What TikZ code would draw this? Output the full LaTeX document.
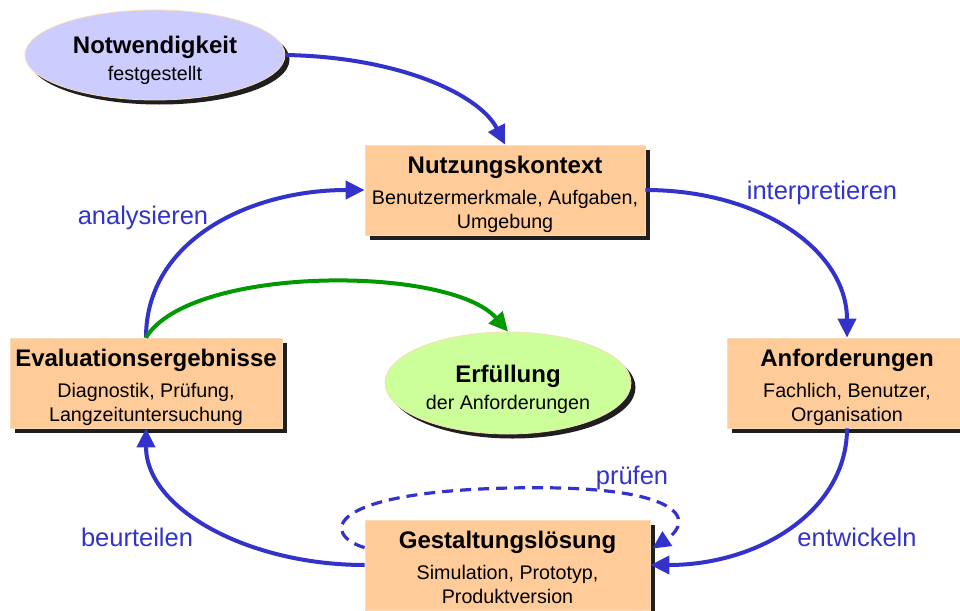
\documentclass[tikz,border=0pt]{standalone}
\usepackage{fontspec}
\setmainfont{Liberation Sans}
\usetikzlibrary{arrows.meta,shadows,calc,shapes.geometric}
\definecolor{peach}{HTML}{FFCC99}
\definecolor{peachline}{HTML}{F8DDB8}
\definecolor{lav}{HTML}{CCCCFF}
\definecolor{lgreen}{HTML}{CCFF99}
\definecolor{arrblue}{HTML}{3333CC}
\definecolor{arrgreen}{HTML}{009900}
\newcommand\ttlfont{\fontsize{24}{24}\selectfont\bfseries}
\newcommand\sbtfont{\fontsize{19.7}{24}\selectfont}
\begin{document}
\begin{tikzpicture}[x=1pt,y=-1pt,
  shad/.style={drop shadow={shadow xshift=4.5pt, shadow yshift=-4.5pt, fill=black!88, opacity=1}},
  box/.style={rectangle, fill=peach, draw=peachline, line width=0.8pt, inner sep=0pt,
    align=center, minimum height=90pt, font=\sbtfont, text height=80pt, text depth=4pt, shad},
  ell/.style={ellipse, draw=peachline, line width=0.8pt, inner sep=0pt, align=center,
    font=\sbtfont, shad},
  flow/.style={draw=arrblue, line width=4pt, -{Triangle[length=19pt,width=18pt]}},
  gflow/.style={draw=arrgreen, line width=4pt, -{Triangle[length=19pt,width=18pt]}},
  dflow/.style={draw=arrblue, line width=3.2pt, dash pattern=on 11pt off 7pt, -{Triangle[length=18pt,width=17pt]}},
  lbl/.style={text=arrblue, font=\fontsize{25.5}{28}\selectfont, inner sep=0pt}]
\useasboundingbox (0,0) rectangle (960,610);
\fill[white] (0,0) rectangle (960,610);
\clip (0,0) rectangle (960,610);

% nodes
\node[ell, fill=lav, minimum width=260pt, minimum height=90pt, text height=54pt, text depth=4pt] (notw) at (155,55)
  {{\ttlfont Notwendigkeit}\\[2pt]festgestellt};
\node[box, minimum width=280pt] (nutz) at (505,190)
  {{\ttlfont Nutzungskontext}\\[7pt]Benutzermerkmale, Aufgaben,\\Umgebung};
\node[box, minimum width=272pt] (eval) at (146,383)
  {{\ttlfont Evaluationsergebnisse}\\[7pt]Diagnostik, Prüfung,\\Langzeituntersuchung};
\node[box, minimum width=240pt] (anf) at (847,383)
  {{\ttlfont Anforderungen}\\[7pt]Fachlich, Benutzer,\\Organisation};
\node[box, minimum width=285pt] (gest) at (507.5,565)
  {{\ttlfont Gestaltungslösung}\\[7pt]Simulation, Prototyp,\\Produktversion};
\node[ell, fill=lgreen, minimum width=246pt, minimum height=102pt, text height=56pt, text depth=4pt] (erf) at (508,383)
  {{\ttlfont Erfüllung}\\[3pt]der Anforderungen};

% connectors
\draw[flow] (notw.east) .. controls (400,57) and (480,95) .. (nutz.north);
\draw[flow] (eval.north) .. controls (146,240) and (250,190) .. (nutz.west);
\draw[flow] (nutz.east) .. controls (760,190) and (847,250) .. (anf.north);
\draw[flow] (anf.south) .. controls (847,510) and (760,565) .. (gest.east);
\draw[flow] (gest.west) .. controls (250,565) and (146,510) .. (eval.south);
\draw[gflow] (eval.north) .. controls (190,265) and (450,265) .. (erf.north);
\coordinate (dstart) at ($(gest.north west)+(0,28)$);
\coordinate (dend) at ($(gest.north east)+(2,29)$);
\draw[dflow] (dstart) .. controls (322,535) and (322,492) .. (510,488)
  .. controls (685,484) and (695,520) .. (dend);

% labels
\node[lbl] (l1) at (143,218) {analysieren};
\node[lbl] (l2) at (822,193) {interpretieren};
\node[lbl] (l3) at (137,537) {beurteilen};
\node[lbl] (l4) at (857,537) {entwickeln};
\node[lbl] (l5) at (632,478) {prüfen};
\end{tikzpicture}
\end{document}
